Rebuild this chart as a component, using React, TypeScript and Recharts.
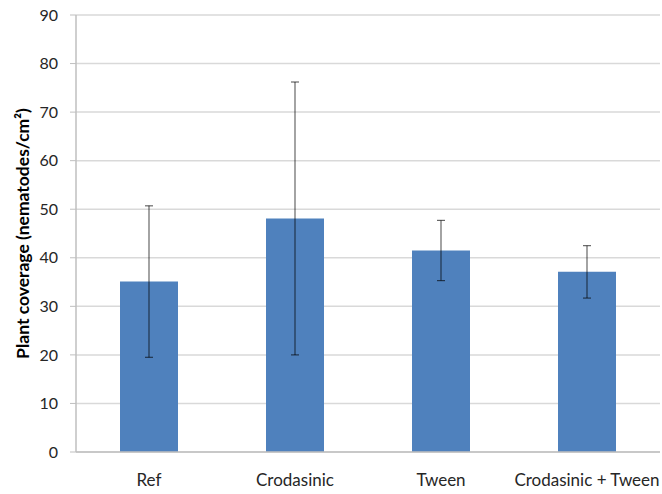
import { BarChart, Bar, XAxis, YAxis, CartesianGrid, ErrorBar } from 'recharts'

const categories = ['Ref', 'Crodasinic', 'Tween', 'Crodasinic + Tween']
const coverage = [35.1, 48.1, 41.5, 37.1]
const errors = [15.6, 28.1, 6.2, 5.4]
const yTicks = [0, 10, 20, 30, 40, 50, 60, 70, 80, 90]
const boundaryTicks = [0, 1, 2, 3, 4]

const FONT = 'Lato, "Open Sans", sans-serif'

const data = categories.map((name, i) => ({
  name,
  value: coverage[i],
  err: errors[i],
}))

export default function App() {
  return (
    <div style={{ position: 'absolute', left: 0, top: 0, width: 662, height: 494, background: '#fff' }}>
      <BarChart
        width={662}
        height={494}
        data={data}
        margin={{ top: 15, right: 2, bottom: 0, left: 0 }}
        style={{ fontFamily: FONT }}
      >
        <CartesianGrid vertical={false} stroke="#d9d9d9" strokeWidth={1.5} />
        <XAxis
          xAxisId="bounds"
          type="number"
          domain={[0, 4]}
          ticks={boundaryTicks}
          allowDataOverflow
          height={0}
          axisLine={false}
          tickSize={5}
          tickLine={{ stroke: '#bfbfbf' }}
          tickFormatter={() => ''}
        />
        <XAxis
          dataKey="name"
          height={42}
          axisLine={{ stroke: '#bfbfbf', strokeWidth: 1.5 }}
          tickLine={false}
          tickSize={0}
          tickMargin={22}
          tick={{ fill: '#262626', fontSize: 17 }}
          interval={0}
        />
        <YAxis
          domain={[0, 90]}
          ticks={yTicks}
          width={76}
          axisLine={{ stroke: '#bfbfbf', strokeWidth: 1.5 }}
          tickLine={{ stroke: '#bfbfbf' }}
          tickSize={6}
          tickMargin={12}
          tick={{ fill: '#262626', fontSize: 16 }}
          label={{
            value: 'Plant coverage (nematodes/cm²)',
            angle: -90,
            position: 'center',
            dx: -15,
            style: { fill: '#000', fontSize: 17.5, fontWeight: 700 },
          }}
        />
        <Bar dataKey="value" fill="#4f81bd" barSize={58} isAnimationActive={false}>
          <ErrorBar dataKey="err" width={4} stroke="#000" strokeOpacity={0.6} strokeWidth={1.2} />
        </Bar>
      </BarChart>
    </div>
  )
}
